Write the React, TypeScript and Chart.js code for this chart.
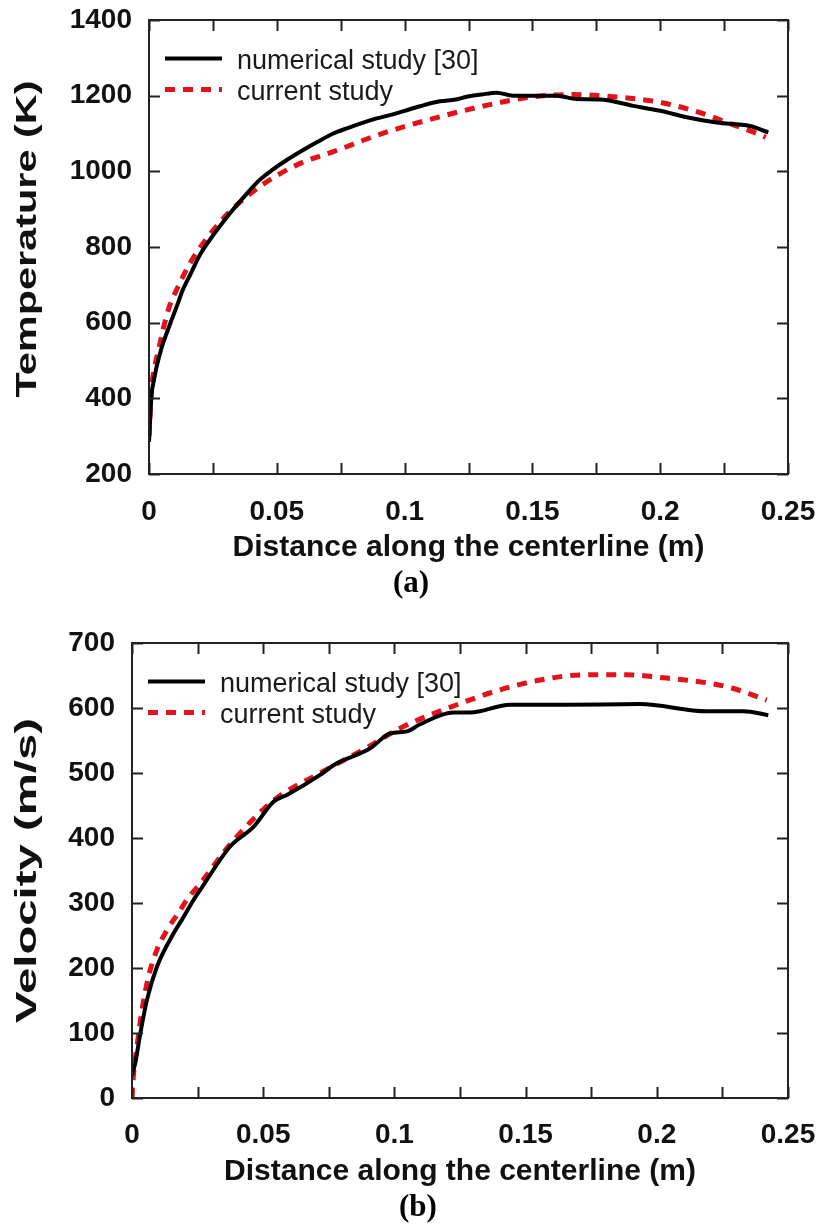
import React, { useEffect, useRef } from "react";
import { Chart, registerables } from "chart.js";
Chart.register(...registerables);

// ---------- data ----------
const seriesLabels = ["numerical study [30]", "current study"];
const xTickLabels = ["0", "0.05", "0.1", "0.15", "0.2", "0.25"];
const xAxisTitle = "Distance along the centerline (m)";
const tempAxisTitle = "Temperature (K)";
const velAxisTitle = "Velocity (m/s)";
const captions = ["(a)", "(b)"];

const tempNumericalX = [0, 0.0005, 0.001, 0.002, 0.003, 0.005, 0.0069, 0.009, 0.0115, 0.0128, 0.016, 0.02, 0.025, 0.0317, 0.0375, 0.0434, 0.0485, 0.0539, 0.06, 0.066, 0.0721, 0.078, 0.0835, 0.0891, 0.095, 0.1, 0.106, 0.1138, 0.12, 0.1243, 0.13, 0.136, 0.1424, 0.15, 0.1595, 0.1673, 0.1764, 0.1895, 0.2, 0.2104, 0.222, 0.2351, 0.2423];
const tempNumericalY = [285, 350, 410, 450, 484, 535, 572, 610, 655, 680, 725, 780, 830, 889, 935, 978, 1005, 1030, 1055, 1078, 1100, 1115, 1128, 1140, 1150, 1160, 1172, 1185, 1190, 1197, 1203, 1208, 1200, 1200, 1200, 1191, 1190, 1173, 1160, 1143, 1129, 1120, 1103];
const tempCurrentX = [0, 0.0005, 0.001, 0.0023, 0.0043, 0.0056, 0.0082, 0.0108, 0.016, 0.0212, 0.0304, 0.0434, 0.0591, 0.0721, 0.0917, 0.1165, 0.1338, 0.1504, 0.166, 0.1817, 0.1986, 0.2143, 0.2286, 0.239, 0.2413];
const tempCurrentY = [300, 370, 427, 485, 545, 585, 647, 687, 757, 810, 885, 960, 1021, 1052, 1101, 1149, 1177, 1197, 1203, 1197, 1184, 1158, 1123, 1097, 1090];

const velNumericalX = [0, 0.0013, 0.0032, 0.0057, 0.0095, 0.0158, 0.019, 0.0235, 0.026, 0.0374, 0.0463, 0.054, 0.059, 0.0717, 0.0768, 0.0908, 0.0984, 0.1048, 0.1098, 0.1225, 0.1289, 0.1441, 0.1657, 0.1936, 0.219, 0.233, 0.2425];
const velNumericalY = [35, 55, 100, 151, 202, 253, 274, 305, 320, 387, 417, 456, 466, 497, 512, 538, 561, 564, 575, 593, 593, 605, 605, 606, 595, 595, 589];
const velCurrentX = [0, 0.0006, 0.0019, 0.0038, 0.0063, 0.0095, 0.0133, 0.0184, 0.0209, 0.026, 0.0374, 0.054, 0.0717, 0.09, 0.1022, 0.1238, 0.1403, 0.1555, 0.172, 0.1886, 0.2038, 0.2203, 0.2292, 0.2419];
const velCurrentY = [0, 38, 79, 135, 187, 228, 258, 289, 305, 330, 390, 458, 500, 540, 569, 605, 628, 643, 651, 651, 646, 638, 630, 612];

// ---------- styles ----------
const FONT = '"Liberation Sans", Arial, sans-serif';
const RED = "#e3131b";
const BLACK = "#000000";
const TEXT = "#111111";

const zip = (xs: number[], ys: number[]) => xs.map((x, i) => ({ x, y: ys[i] }));

const framePlugin = {
  id: "frameTicks",
  afterDatasetsDraw(chart: any, _args: any, opts: any) {
    const { ctx, chartArea: a, scales } = chart;
    ctx.save();
    // frame
    ctx.strokeStyle = "#222";
    ctx.lineWidth = 2;
    ctx.strokeRect(a.left, a.top, a.right - a.left, a.bottom - a.top);
    // inward ticks
    const tl = 11;
    ctx.beginPath();
    scales.x.ticks.forEach((t: any) => {
      const px = Math.round(scales.x.getPixelForValue(t.value)) + 0.5;
      ctx.moveTo(px, a.bottom);
      ctx.lineTo(px, a.bottom - tl);
      ctx.moveTo(px, a.top);
      ctx.lineTo(px, a.top + tl);
    });
    scales.y.ticks.forEach((t: any) => {
      const py = Math.round(scales.y.getPixelForValue(t.value)) + 0.5;
      ctx.moveTo(a.left, py);
      ctx.lineTo(a.left + tl, py);
      ctx.moveTo(a.right, py);
      ctx.lineTo(a.right - tl, py);
    });
    ctx.stroke();

    // legend
    const rows = [a.top + 38.5, a.top + 69.5];
    chart.data.datasets.forEach((ds: any, i: number) => {
      const y = rows[i];
      ctx.beginPath();
      ctx.strokeStyle = ds.borderColor;
      ctx.lineWidth = ds.borderWidth;
      ctx.setLineDash(ds.borderDash || []);
      ctx.moveTo(a.left + 16, y);
      ctx.lineTo(a.left + 73, y);
      ctx.stroke();
      ctx.setLineDash([]);
      ctx.fillStyle = "#1a1a1a";
      ctx.font = `27px ${FONT}`;
      ctx.textAlign = "left";
      ctx.textBaseline = "alphabetic";
      ctx.fillText(ds.label, a.left + 88, y + 10);
    });

    // y-axis title (stretched to reference length)
    ctx.save();
    const cy = (a.top + a.bottom) / 2 + (opts.yTitleShift || 0);
    ctx.translate(35.5, cy);
    ctx.rotate(-Math.PI / 2);
    ctx.font = `bold 30px ${FONT}`;
    const w = ctx.measureText(opts.yTitle).width;
    ctx.scale(opts.yTitleLength / w, 1);
    ctx.fillStyle = TEXT;
    ctx.textAlign = "center";
    ctx.textBaseline = "alphabetic";
    ctx.fillText(opts.yTitle, 0, 0);
    ctx.restore();

    ctx.restore();
  },
};

const noPad = (s: any) => {
  s.paddingTop = 0;
  s.paddingBottom = 0;
  s.paddingLeft = 0;
  s.paddingRight = 0;
};

function makeConfig(p: any) {
  return {
    type: "line",
    data: {
      datasets: [
        {
          label: seriesLabels[0],
          data: zip(p.numX, p.numY),
          borderColor: BLACK,
          borderWidth: 4,
          pointRadius: 0,
          cubicInterpolationMode: "monotone",
          fill: false,
        },
        {
          label: seriesLabels[1],
          data: zip(p.curX, p.curY),
          borderColor: RED,
          borderWidth: 5,
          borderDash: [10, 8],
          pointRadius: 0,
          cubicInterpolationMode: "monotone",
          fill: false,
        },
      ],
    },
    options: {
      responsive: false,
      animation: false,
      devicePixelRatio: 1,
      layout: { padding: { top: p.padTop, right: p.padRight, left: 0, bottom: 0 } },
      plugins: {
        legend: { display: false },
        tooltip: { enabled: false },
        frameTicks: { yTitle: p.yTitle, yTitleLength: p.yTitleLength, yTitleShift: p.yTitleShift },
      },
      scales: {
        x: {
          type: "linear",
          min: 0,
          max: 0.25,
          grid: { display: false, drawTicks: false },
          border: { display: false },
          ticks: {
            stepSize: 0.025,
            autoSkip: false,
            maxRotation: 0,
            padding: p.xTickPad,
            color: TEXT,
            font: { family: FONT, size: 28, weight: "bold" },
            callback: (_v: any, i: number) => (i % 2 === 0 ? xTickLabels[i / 2] : ""),
          },
          title: {
            display: true,
            text: xAxisTitle,
            color: TEXT,
            font: { family: FONT, size: 30, weight: "bold" },
            padding: { top: 0, bottom: p.xTitlePad },
          },
          afterFit: (s: any) => {
            s.height = p.xAxisHeight;
            noPad(s);
          },
        },
        y: {
          type: "linear",
          min: p.yMin,
          max: p.yMax,
          grid: { display: false, drawTicks: false },
          border: { display: false },
          ticks: {
            stepSize: p.yStep,
            autoSkip: false,
            padding: 17,
            color: TEXT,
            font: { family: FONT, size: 28, weight: "bold" },
            callback: (v: any) => String(v),
          },
          afterFit: (s: any) => {
            s.width = p.yAxisWidth;
            noPad(s);
          },
        },
      },
    },
    plugins: [framePlugin],
  } as any;
}

const A_TOP = 0;
const A_HEIGHT = 570;
const B_TOP = 615;
const B_HEIGHT = 580;
const WIDTH = 821;

export default function App() {
  const refA = useRef<HTMLCanvasElement>(null);
  const refB = useRef<HTMLCanvasElement>(null);

  useEffect(() => {
    const chartA = new Chart(
      refA.current as HTMLCanvasElement,
      makeConfig({
        numX: tempNumericalX,
        numY: tempNumericalY,
        curX: tempCurrentX,
        curY: tempCurrentY,
        yMin: 200,
        yMax: 1400,
        yStep: 200,
        yTitle: tempAxisTitle,
        yTitleLength: 317,
        yTitleShift: -8,
        padTop: 20,
        padRight: 33,
        yAxisWidth: 149,
        xAxisHeight: A_HEIGHT - 474,
        xTickPad: 21,
        xTitlePad: 4,
      })
    );
    const chartB = new Chart(
      refB.current as HTMLCanvasElement,
      makeConfig({
        numX: velNumericalX,
        numY: velNumericalY,
        curX: velCurrentX,
        curY: velCurrentY,
        yMin: 0,
        yMax: 700,
        yStep: 100,
        yTitle: velAxisTitle,
        yTitleLength: 305,
        yTitleShift: 0,
        padTop: 643 - B_TOP,
        padRight: 33,
        yAxisWidth: 132,
        xAxisHeight: B_TOP + B_HEIGHT - 1098,
        xTickPad: 20,
        xTitlePad: 5,
      })
    );
    return () => {
      chartA.destroy();
      chartB.destroy();
    };
  }, []);

  const captionStyle: React.CSSProperties = {
    position: "absolute",
    width: 80,
    height: 32,
    lineHeight: "32px",
    textAlign: "center",
    fontFamily: '"Liberation Serif", "Times New Roman", serif',
    fontWeight: "bold",
    fontSize: 31,
    color: "#000",
  };

  return (
    <div style={{ position: "absolute", left: 0, top: 0, width: WIDTH, height: 1227, background: "#fff", overflow: "hidden" }}>
      <canvas
        ref={refA}
        width={WIDTH}
        height={A_HEIGHT}
        style={{ position: "absolute", left: 0, top: A_TOP, width: WIDTH, height: A_HEIGHT }}
      />
      <canvas
        ref={refB}
        width={WIDTH}
        height={B_HEIGHT}
        style={{ position: "absolute", left: 0, top: B_TOP, width: WIDTH, height: B_HEIGHT }}
      />
      <div style={{ ...captionStyle, left: 411 - 40, top: 566 }}>{captions[0]}</div>
      <div style={{ ...captionStyle, left: 418 - 40, top: 1190 }}>{captions[1]}</div>
    </div>
  );
}
